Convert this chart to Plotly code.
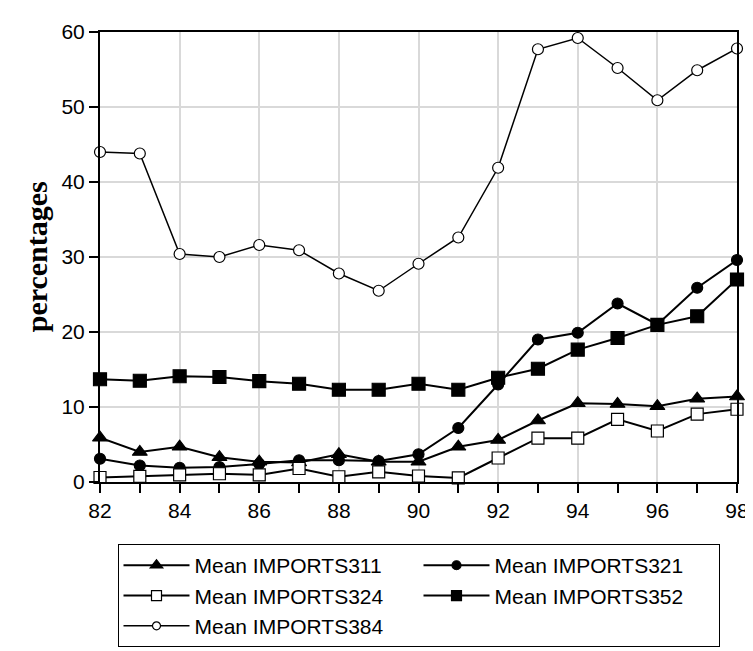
import plotly.graph_objects as go

years = list(range(82, 99))
m311 = [5.9, 4.0, 4.7, 3.3, 2.7, 2.6, 3.7, 2.7, 2.7, 4.7, 5.6, 8.2, 10.5, 10.4, 10.1, 11.1, 11.4]
m321 = [3.1, 2.2, 1.9, 2.0, 2.4, 2.9, 2.9, 2.8, 3.7, 7.2, 13.0, 19.0, 19.9, 23.8, 21.0, 25.9, 29.6]
m324 = [0.6, 0.75, 0.95, 1.1, 0.95, 1.8, 0.7, 1.35, 0.8, 0.55, 3.2, 5.85, 5.85, 8.35, 6.8, 9.05, 9.7]
m352 = [13.7, 13.5, 14.1, 14.0, 13.45, 13.1, 12.3, 12.3, 13.1, 12.3, 13.9, 15.1, 17.65, 19.2, 20.95, 22.1, 27.0]
m384 = [44.0, 43.8, 30.4, 30.0, 31.6, 30.9, 27.8, 25.5, 29.1, 32.6, 41.9, 57.7, 59.2, 55.2, 50.9, 54.9, 57.8]

names = ["Mean IMPORTS311", "Mean IMPORTS321", "Mean IMPORTS324", "Mean IMPORTS352", "Mean IMPORTS384"]
series = [m311, m321, m324, m352, m384]
symbols = ["triangle-up", "circle", "square", "square", "circle"]
fills = ["black", "black", "white", "black", "white"]
sizes = [13, 11, 12, 13, 11]
legend_sizes = [11, 9, 10, 10, 8]
lwidths = [2, 2, 2, 2, 1.5]

fig = go.Figure()
# data traces (drawn in the plot)
for nm, ys, sym, fc, sz, lw in zip(names, series, symbols, fills, sizes, lwidths):
    fig.add_trace(go.Scatter(
        x=years, y=ys, name=nm, mode="lines+markers", cliponaxis=False, showlegend=False,
        line=dict(color="black", width=lw),
        marker=dict(symbol=sym, size=sz, color=fc, line=dict(color="black", width=1.2)),
    ))
# legend entries (no points drawn; only give the legend smaller sample markers)
for nm, sym, fc, sz, lw in zip(names, symbols, fills, legend_sizes, lwidths):
    fig.add_trace(go.Scatter(
        x=[None], y=[None], name=nm, mode="lines+markers", showlegend=True,
        line=dict(color="black", width=lw),
        marker=dict(symbol=sym, size=sz, color=fc, line=dict(color="black", width=1.2)),
    ))

tickfont = dict(family="Liberation Sans, Arial", size=21, color="black")
fig.update_layout(
    width=753, height=651,
    margin=dict(l=92, r=21, t=12, b=161),
    paper_bgcolor="white", plot_bgcolor="white",
    showlegend=True,
    legend=dict(
        orientation="h", x=0.5, xanchor="center", y=-0.138, yanchor="top",
        bordercolor="black", borderwidth=1, bgcolor="white",
        font=dict(family="Liberation Sans, Arial", size=21, color="black"),
        itemwidth=66, entrywidth=219, tracegroupgap=0,
    ),
    xaxis=dict(
        range=[82, 98], dtick=2, tick0=82, ticks="outside", ticklen=9, tickwidth=1.5,
        tickcolor="black", showgrid=True, gridcolor="#d9d9d9", gridwidth=1.5,
        showline=True, linecolor="black", linewidth=2, mirror=True,
        tickfont=tickfont, zeroline=False,
        minor=dict(dtick=1, tick0=82, ticks="outside", ticklen=9, tickwidth=1.5, tickcolor="black", showgrid=False),
    ),
    yaxis=dict(
        range=[0, 60], dtick=10, ticks="outside", ticklen=9, tickwidth=1.5,
        tickcolor="black", showgrid=True, gridcolor="#d9d9d9", gridwidth=1.5,
        showline=True, linecolor="black", linewidth=2, mirror=True,
        tickfont=tickfont, zeroline=False,
    ),
    annotations=[dict(
        text="<b>percentages</b>", xref="paper", yref="paper", x=-0.1, y=0.5,
        xanchor="center", yanchor="middle", textangle=-90, showarrow=False,
        font=dict(family="Liberation Serif, Times New Roman", size=30, color="black"),
    )],
)

fig.write_html("out.html")
